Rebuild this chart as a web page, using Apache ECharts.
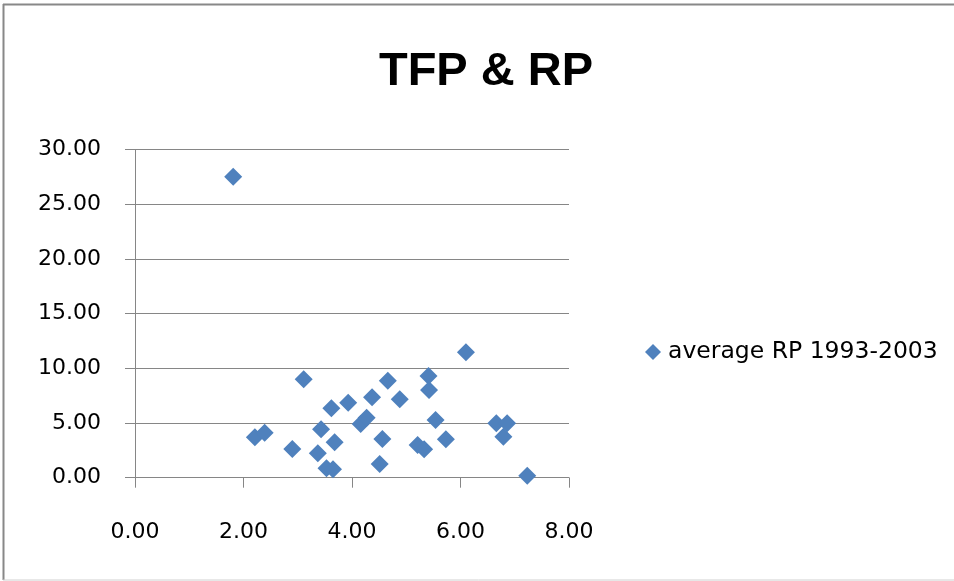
<!DOCTYPE html>
<html>
<head>
<meta charset="utf-8">
<script src="https://cdn.jsdelivr.net/npm/echarts@6/dist/echarts.min.js"></script>
<style>
  html, body { margin: 0; padding: 0; background: #fff; }
  #chart { width: 954px; height: 581px; }
</style>
</head>
<body>
<div id="chart"></div>
<script>
const seriesName = 'average RP 1993-2003'
// TFP values (x) and average RP (y)
const tfp = [1.81, 2.21, 2.39, 2.90, 3.11, 3.37, 3.43, 3.53, 3.62, 3.65, 3.68, 3.93,
  4.16, 4.27, 4.37, 4.51, 4.56, 4.66, 4.88, 5.21, 5.33, 5.41, 5.42, 5.54, 5.73,
  6.10, 6.66, 6.79, 6.86, 7.23]
const rp = [27.5, 3.69, 4.11, 2.62, 8.99, 2.23, 4.42, 0.86, 6.34, 0.77, 3.23, 6.86,
  4.91, 5.48, 7.35, 1.25, 3.54, 8.87, 7.17, 2.99, 2.60, 9.30, 8.02, 5.27, 3.51,
  11.46, 4.97, 3.75, 4.97, 0.18]

const points = tfp.map((x, i) => [x, rp[i]])

const chart = echarts.init(document.getElementById('chart'))
const labelFont = { color: '#000', fontSize: 22, fontFamily: 'DejaVu Sans' }

chart.setOption({
  animation: false,
  title: {
    text: 'TFP & RP',
    left: 481,
    top: 44,
    textAlign: 'center',
    textStyle: { fontSize: 47, fontWeight: 'bold', fontFamily: 'Liberation Sans', color: '#000' }
  },
  legend: {
    left: 640,
    top: 335,
    itemWidth: 16,
    itemHeight: 16,
    itemGap: 0,
    icon: 'diamond',
    textStyle: { ...labelFont, fontSize: 23.5, padding: [0, 0, 0, 2] },
    data: [seriesName]
  },
  grid: { left: 135, right: 385, top: 149.5, bottom: 103.3 },
  xAxis: {
    type: 'value',
    min: 0, max: 8, interval: 2,
    axisLine: { lineStyle: { color: '#868686' } },
    axisTick: { show: true, length: 10, lineStyle: { color: '#868686' } },
    splitLine: { show: false },
    axisLabel: { ...labelFont, margin: 44, formatter: v => v.toFixed(2) }
  },
  yAxis: {
    type: 'value',
    min: 0, max: 30, interval: 5,
    axisLine: { show: true, lineStyle: { color: '#868686' } },
    axisTick: { show: true, length: 10, lineStyle: { color: '#868686' } },
    splitLine: { lineStyle: { color: '#868686' } },
    axisLabel: { ...labelFont, margin: 34, formatter: v => v.toFixed(2) }
  },
  series: [{
    name: seriesName,
    type: 'scatter',
    symbol: 'diamond',
    symbolSize: 18,
    itemStyle: { color: '#4F81BD', opacity: 1 },
    data: points
  }],
  graphic: [
    { type: 'line', shape: { x1: 3, y1: 4.5, x2: 954, y2: 4.5 }, style: { stroke: '#888', lineWidth: 2 } },
    { type: 'line', shape: { x1: 3.5, y1: 4, x2: 3.5, y2: 580 }, style: { stroke: '#888', lineWidth: 2 } },
    { type: 'line', shape: { x1: 3, y1: 580, x2: 954, y2: 580 }, style: { stroke: '#d0d0d0', lineWidth: 1 } }
  ]
})
</script>
</body>
</html>
